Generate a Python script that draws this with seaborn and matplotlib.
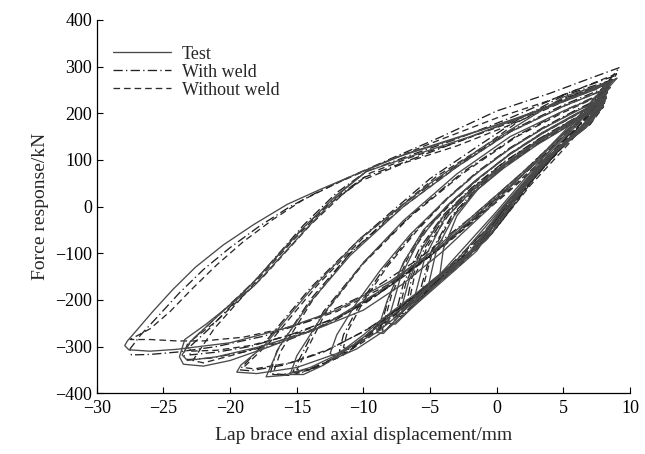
import matplotlib
matplotlib.use("Agg")
import matplotlib.pyplot as plt
from matplotlib.lines import Line2D
import seaborn as sns
import pandas as pd

# ---------------- data ----------------
series_names = ["Test", "With weld", "Without weld"]
x_ticks = [-30, -25, -20, -15, -10, -5, 0, 5, 10]
y_ticks = [-400, -300, -200, -100, 0, 100, 200, 300, 400]

# Test (solid) hysteresis loops: displacement (mm) / force (kN)
test_x = [
    [9.0, 8.0, 5.8, 3.0, 0.0, -3.0, -6.5, -9.0, -11.0, -13.3, -15.7, -18.2, -20.5, -22.6, -24.3, -25.8, -27.0, -27.7, -27.9, -27.6, -26.0, -24.0, -20.0, -16.0, -12.0, -8.0, -4.0, 0.0, 4.0, 7.0, 9.0],
    [8.6, 7.4, 2.8, -2.0, -5.0, -7.5, -9.5, -11.5, -14.2, -18.2, -21.8, -23.4, -23.8, -23.5, -22.0, -20.0, -17.0, -13.0, -9.0, -5.0, -1.0, 3.0, 6.0, 8.6],
    [8.2, 6.0, 2.0, -2.0, -6.0, -9.8, -12.0, -14.5, -18.5, -21.5, -23.0, -23.6, -23.2, -21.0, -18.0, -14.0, -10.0, -7.0, -4.0, -1.0, 2.0, 5.5, 8.2],
    [8.7, 5.0, 2.0, -1.2, -5.0, -10.3, -14.0, -17.5, -19.2, -19.5, -18.0, -15.0, -12.0, -9.0, -6.0, -3.0, 0.0, 3.0, 6.0, 8.7],
    [8.5, 5.0, 1.0, -3.0, -7.0, -11.0, -14.0, -16.3, -17.3, -16.0, -14.0, -12.0, -10.0, -8.0, -6.0, -3.0, 0.0, 3.0, 6.0, 8.5],
    [8.3, 5.0, 1.0, -3.0, -7.0, -10.0, -13.0, -15.0, -15.5, -14.5, -13.0, -11.0, -9.0, -7.0, -4.5, -2.0, 0.5, 3.6, 6.5, 8.3],
    [8.2, 6.0, 3.5, 1.0, -1.5, -4.0, -6.5, -8.7, -10.6, -12.0, -12.5, -12.0, -10.5, -8.0, -6.0, -4.0, -1.5, 1.0, 3.8, 6.3, 8.2],
    [8.1, 6.0, 3.5, 1.0, -1.5, -3.5, -5.5, -7.0, -8.2, -9.0, -8.5, -6.3, -4.0, -1.8, 0.7, 3.6, 6.0, 8.1],
    [8.0, 5.5, 3.0, 0.5, -2.0, -4.0, -5.6, -6.6, -7.2, -6.6, -4.2, -2.0, 0.6, 3.5, 6.0, 8.0],
    [8.0, 5.5, 3.0, 0.5, -1.5, -3.2, -4.5, -5.2, -4.8, -2.2, 0.5, 3.5, 6.0, 8.0],
    [8.0, 5.6, 3.0, 0.4, -2.0, -4.0, -5.4, -6.2, -5.6, -3.2, -0.8, 1.8, 4.5, 6.8, 8.0],
    [8.1, 5.5, 3.0, 0.6, -1.4, -3.0, -4.0, -4.3, -3.8, -1.5, 1.2, 4.0, 6.5, 8.1],
    [8.2, 6.0, 3.5, 1.0, -1.5, -3.8, -5.8, -7.2, -8.2, -7.6, -5.4, -3.0, -0.6, 2.2, 5.0, 7.2, 8.2],
]
test_y = [
    [275, 262, 237, 205, 175, 148, 116, 88, 64, 36, 5, -38, -82, -130, -178, -225, -265, -288, -298, -307, -310, -306, -292, -262, -222, -160, -80, 20, 120, 210, 275],
    [270, 251, 201, 156, 128, 106, 82, 35, -45, -170, -252, -285, -322, -338, -342, -330, -300, -255, -185, -100, 0, 100, 190, 270],
    [262, 238, 193, 150, 112, 75, 25, -45, -170, -250, -290, -318, -330, -322, -302, -268, -222, -165, -95, -15, 70, 170, 262],
    [270, 235, 182, 125, 50, -70, -180, -300, -340, -355, -358, -345, -315, -270, -200, -105, -10, 90, 180, 270],
    [255, 215, 160, 85, 0, -105, -205, -300, -365, -362, -345, -318, -275, -228, -185, -115, -15, 85, 175, 255],
    [245, 205, 150, 70, -30, -120, -230, -320, -360, -360, -340, -302, -258, -215, -155, -100, -2, 98, 175, 245],
    [235, 205, 168, 124, 72, 10, -60, -135, -210, -275, -315, -324, -305, -258, -208, -158, -95, 10, 102, 165, 235],
    [228, 198, 158, 112, 58, 8, -50, -120, -200, -270, -272, -200, -142, -95, 5, 100, 162, 228],
    [222, 182, 140, 90, 35, -20, -90, -160, -222, -214, -148, -100, 2, 98, 160, 222],
    [215, 175, 132, 82, 35, -20, -90, -178, -172, -103, 0, 98, 158, 215],
    [218, 180, 137, 86, 30, -30, -110, -198, -196, -130, -72, 35, 125, 172, 218],
    [225, 182, 137, 88, 38, -20, -90, -152, -150, -88, 15, 108, 165, 225],
    [232, 200, 160, 113, 58, 0, -70, -150, -250, -252, -190, -128, -65, 45, 135, 185, 232],
]

# With weld (dash-dot)
weld_x = [
    [9.2, 7.0, 4.0, 0.0, -4.3, -8.0, -11.0, -13.5, -15.5, -17.8, -20.0, -22.0, -23.8, -25.4, -26.7, -27.5, -27.4, -26.0, -24.0, -21.0, -17.5, -14.0, -10.0, -6.0, -2.0, 2.0, 5.5, 9.2],
    [8.8, 5.0, 1.0, -3.0, -6.5, -9.8, -12.0, -14.5, -18.0, -21.5, -23.2, -23.5, -23.2, -21.5, -19.0, -16.0, -12.5, -9.0, -5.5, -2.0, 2.0, 5.5, 8.8],
    [8.5, 5.0, 1.0, -3.0, -6.5, -10.0, -12.5, -15.0, -18.5, -21.5, -23.0, -23.0, -21.0, -18.5, -15.5, -12.0, -8.5, -5.0, -1.5, 2.5, 5.8, 8.5],
    [8.7, 5.0, 1.5, -1.5, -5.0, -10.3, -14.0, -17.5, -19.3, -18.5, -16.0, -13.0, -10.0, -7.0, -4.0, -1.0, 2.5, 5.5, 8.7],
    [8.4, 5.0, 1.0, -3.0, -7.0, -11.0, -14.0, -16.5, -17.0, -16.0, -14.0, -12.0, -9.5, -7.0, -4.0, -1.0, 2.0, 5.0, 8.4],
    [8.3, 5.0, 1.5, -2.5, -6.5, -10.0, -13.0, -15.3, -14.5, -12.5, -10.5, -8.5, -6.0, -3.5, -1.0, 2.0, 5.0, 8.3],
    [8.2, 6.0, 3.5, 1.0, -1.5, -3.8, -6.2, -8.4, -10.2, -11.5, -11.8, -11.2, -9.0, -6.5, -4.0, -1.5, 1.2, 4.0, 6.5, 8.2],
    [8.1, 6.0, 3.5, 1.0, -1.3, -3.3, -5.3, -6.9, -8.1, -8.8, -8.4, -6.2, -3.8, -1.6, 1.0, 3.8, 6.2, 8.1],
    [8.0, 5.5, 3.0, 0.5, -1.8, -3.8, -5.4, -6.4, -6.8, -6.4, -4.0, -1.8, 0.8, 3.6, 6.0, 8.0],
    [8.0, 5.6, 3.1, 0.6, -1.6, -3.4, -4.9, -5.8, -5.4, -3.0, -0.7, 2.0, 4.7, 6.9, 8.0],
    [8.1, 5.7, 3.2, 0.6, -1.9, -4.0, -5.8, -7.0, -7.6, -7.2, -5.0, -2.6, -0.2, 2.6, 5.3, 8.1],
]
weld_y = [
    [298, 275, 243, 205, 148, 102, 64, 30, 0, -42, -88, -135, -185, -235, -275, -305, -318, -317, -312, -300, -278, -245, -190, -115, -25, 75, 170, 298],
    [280, 240, 190, 145, 110, 75, 30, -40, -155, -250, -295, -318, -328, -325, -312, -290, -250, -190, -115, -30, 75, 170, 280],
    [270, 230, 182, 138, 100, 62, 10, -60, -170, -260, -300, -318, -312, -300, -275, -238, -178, -105, -20, 82, 172, 270],
    [272, 238, 185, 128, 60, -70, -175, -295, -350, -352, -340, -312, -268, -212, -140, -55, 55, 160, 272],
    [258, 218, 162, 88, 5, -100, -200, -310, -358, -360, -348, -322, -270, -212, -148, -60, 40, 140, 258],
    [248, 205, 152, 75, -20, -120, -225, -355, -355, -330, -295, -250, -195, -140, -70, 40, 130, 248],
    [238, 208, 170, 126, 74, 16, -55, -130, -205, -275, -310, -315, -255, -198, -140, -85, 15, 105, 168, 238],
    [228, 199, 160, 114, 62, 12, -46, -115, -195, -268, -268, -196, -140, -92, 8, 102, 165, 228],
    [220, 181, 139, 89, 37, -18, -88, -155, -213, -208, -145, -96, 5, 100, 160, 220],
    [216, 178, 136, 87, 36, -20, -95, -185, -186, -125, -68, 40, 128, 174, 216],
    [224, 187, 146, 97, 40, -18, -90, -165, -232, -236, -178, -118, -50, 55, 140, 224],
]

# Without weld (dashed)
noweld_x = [
    [9.0, 7.0, 4.0, 0.0, -5.0, -9.0, -12.0, -14.5, -16.8, -19.0, -21.0, -22.8, -24.5, -26.0, -27.5, -26.0, -24.0, -22.0, -19.0, -15.5, -12.0, -8.0, -4.0, 0.0, 4.0, 7.0, 9.0],
    [8.6, 5.0, 1.0, -3.0, -6.5, -9.5, -11.5, -14.0, -17.5, -21.0, -22.8, -23.2, -23.0, -21.0, -18.5, -15.0, -11.5, -8.0, -4.5, -1.0, 3.0, 6.0, 8.6],
    [8.3, 5.0, 1.0, -3.0, -6.8, -10.2, -12.8, -15.2, -18.5, -21.2, -22.8, -22.0, -20.0, -17.0, -13.5, -10.0, -6.5, -3.0, 0.5, 4.0, 6.8, 8.3],
    [8.6, 5.0, 1.5, -1.0, -4.5, -9.8, -13.5, -17.0, -19.0, -18.2, -15.5, -12.5, -9.5, -6.5, -3.5, -0.5, 3.0, 6.0, 8.6],
    [8.4, 5.0, 1.0, -3.0, -7.0, -11.0, -13.8, -16.2, -16.8, -15.5, -13.5, -11.5, -9.0, -6.5, -3.5, -0.5, 2.5, 5.5, 8.4],
    [8.3, 5.0, 1.5, -2.5, -6.5, -10.0, -12.8, -15.0, -14.0, -12.0, -10.0, -8.0, -5.5, -3.0, -0.5, 2.5, 5.5, 8.3],
    [8.2, 6.0, 3.5, 1.0, -1.4, -3.7, -6.0, -8.2, -10.0, -11.2, -11.5, -11.0, -8.8, -6.3, -3.8, -1.3, 1.4, 4.2, 6.6, 8.2],
    [8.1, 6.0, 3.5, 1.0, -1.2, -3.2, -5.1, -6.7, -7.9, -8.6, -8.2, -6.0, -3.6, -1.4, 1.2, 4.0, 6.3, 8.1],
    [8.0, 5.5, 3.0, 0.5, -1.7, -3.6, -5.2, -6.2, -6.6, -6.2, -3.8, -1.6, 1.0, 3.7, 6.0, 8.0],
    [8.0, 5.6, 3.1, 0.6, -1.5, -3.3, -4.8, -5.6, -5.2, -2.8, -0.5, 2.2, 4.9, 7.0, 8.0],
    [8.1, 5.7, 3.2, 0.6, -1.8, -3.9, -5.6, -6.8, -7.4, -7.0, -4.8, -2.4, 0.0, 2.8, 5.5, 8.1],
]
noweld_y = [
    [285, 262, 228, 190, 135, 88, 50, 15, -28, -75, -125, -175, -225, -262, -285, -285, -288, -288, -280, -258, -225, -165, -85, 10, 110, 200, 285],
    [268, 228, 180, 138, 105, 72, 28, -40, -150, -245, -285, -300, -310, -308, -298, -272, -232, -170, -95, -10, 95, 180, 268],
    [262, 225, 175, 130, 95, 55, 0, -70, -175, -262, -330, -335, -320, -295, -260, -210, -140, -60, 25, 115, 190, 262],
    [268, 232, 180, 128, 65, -60, -170, -290, -345, -348, -335, -305, -260, -200, -130, -40, 70, 168, 268],
    [255, 215, 160, 85, 0, -100, -200, -310, -360, -362, -345, -318, -265, -205, -140, -50, 50, 150, 255],
    [245, 202, 150, 72, -22, -122, -225, -350, -350, -325, -290, -245, -190, -132, -62, 45, 138, 245],
    [235, 206, 168, 125, 74, 17, -52, -128, -203, -268, -302, -308, -250, -194, -136, -82, 18, 108, 170, 235],
    [226, 197, 158, 113, 63, 13, -44, -112, -190, -265, -262, -192, -136, -88, 10, 104, 166, 226],
    [218, 180, 138, 88, 37, -17, -86, -152, -208, -204, -142, -92, 8, 102, 160, 218],
    [214, 177, 135, 86, 36, -20, -94, -180, -180, -120, -63, 45, 132, 176, 214],
    [222, 186, 145, 96, 40, -17, -88, -162, -228, -230, -172, -113, -45, 60, 145, 224],
]

# ---------------- build long table ----------------
rows = []
for name, xs, ys in [("Test", test_x, test_y),
                     ("With weld", weld_x, weld_y),
                     ("Without weld", noweld_x, noweld_y)]:
    for li, (lx, ly) in enumerate(zip(xs, ys)):
        for k, (a, b) in enumerate(zip(lx, ly)):
            rows.append({"series": name, "loop": f"{name}-{li}", "order": k, "x": a, "y": b})
df = pd.DataFrame(rows)

# ---------------- style ----------------
sns.set_theme(style="ticks")
plt.rcParams["font.family"] = ["Liberation Serif", "DejaVu Serif"]

styles = {
    "Test": dict(color="#4a4a4a", linestyle="-", lw=0.95),
    "With weld": dict(color="#222222", linestyle=(0, (7, 2.5, 1, 2.5)), lw=0.95),
    "Without weld": dict(color="#2c2c2c", linestyle=(0, (5, 3)), lw=0.95),
}

fig, ax = plt.subplots(figsize=(6.45, 4.54), dpi=100)
fig.subplots_adjust(left=0.150, right=0.977, top=0.956, bottom=0.134)

for name in ["Without weld", "With weld", "Test"]:
    sub = df[df["series"] == name]
    sns.lineplot(data=sub, x="x", y="y", units="loop", estimator=None,
                 sort=False, ax=ax, legend=False, **styles[name])

ax.set_xlim(-30, 10)
ax.set_ylim(-400, 400)
ax.set_xticks(x_ticks)
ax.set_yticks(y_ticks)
ax.tick_params(direction="in", length=4, width=0.8, labelsize=13, colors="black")
ax.tick_params(axis="x", pad=5)
for s in ["top", "right"]:
    ax.spines[s].set_visible(False)
for s in ["left", "bottom"]:
    ax.spines[s].set_linewidth(0.9)
    ax.spines[s].set_color("black")

ax.set_xlabel("Lap brace end axial displacement/mm", fontsize=14, labelpad=7)
ax.set_ylabel("Force response/kN", fontsize=14, labelpad=4)

handles = [Line2D([0], [0], **styles[n]) for n in series_names]
ax.legend(handles, series_names, loc="upper left", bbox_to_anchor=(0.01, 0.96),
          frameon=False, fontsize=13, handlelength=3.2, handletextpad=0.6,
          labelspacing=0.05, borderaxespad=0.2)

fig.savefig("out.png", dpi=100)
